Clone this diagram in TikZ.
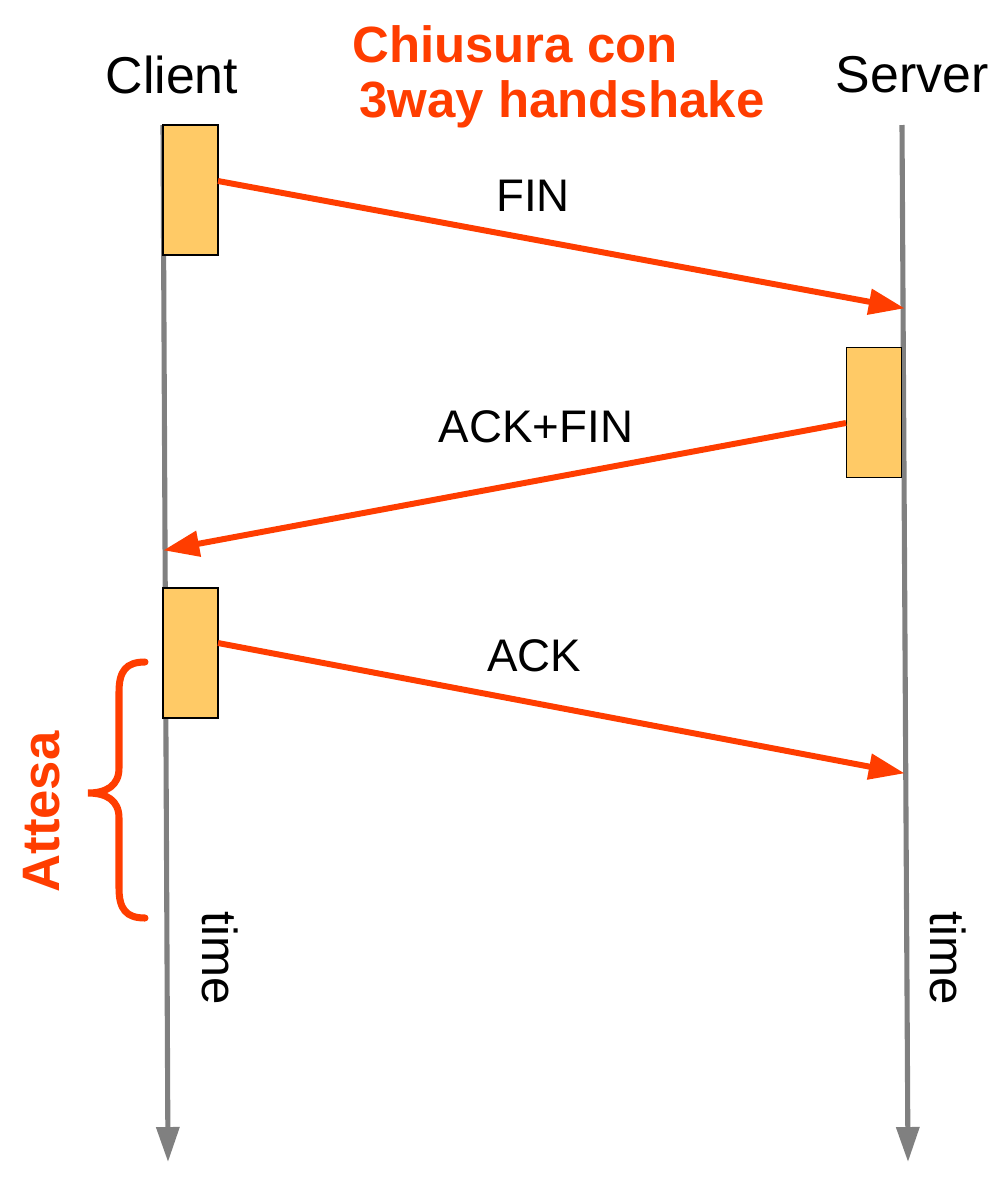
\documentclass[tikz,border=0pt]{standalone}
\usepackage{fontspec}
\setmainfont{Liberation Sans}
\usepackage{tikz}
\usetikzlibrary{arrows.meta}
\definecolor{msgred}{HTML}{FF3D00}
\definecolor{boxfill}{HTML}{FFCA66}
\definecolor{linegray}{HTML}{808080}

\begin{document}
\begin{tikzpicture}[
  x=0.02cm, y=-0.02cm,
  timeline/.style={draw=linegray, line width=2.9pt, -{Triangle[length=0.7cm, width=0.45cm]}},
  busy/.style={draw=black, line width=1pt, fill=boxfill, minimum width=1.1cm, minimum height=2.6cm, inner sep=0pt},
  msg/.style={draw=msgred, line width=3.4pt, -{Triangle[length=0.72cm, width=0.5cm]}, shorten >=-1pt},
  msglabel/.style={font=\fontsize{26}{30}\selectfont},
  host/.style={font=\fontsize{29.5}{34}\selectfont},
  title/.style={font=\fontsize{29}{34}\selectfont\bfseries, text=msgred, align=center}
]
\useasboundingbox (0,0) rectangle (1000,1184);

% Timelines
\coordinate (ctop) at (163,125);
\coordinate (cbot) at (168,1162);
\coordinate (stop) at (902,125);
\coordinate (sbot) at (908,1162);
\draw[timeline] (ctop) -- (cbot);
\draw[timeline] (stop) -- (sbot);

% Hosts and title
\node[host] (client) at (172,75) {Client};
\node[host] (server) at (912,75) {Server};
\node[title] (ttl1) at (515,44) {Chiusura con};
\node[title] (ttl2) at (562,104) {3way handshake};

% Busy boxes
\node[busy] (fin) at (190.5,190) {};
\node[busy] (ackfin) at (874,412.5) {};
\node[busy] (ack) at (190.5,653) {};

% Message ends
\coordinate (finS) at (218,181);
\coordinate (finE) at (903,308);
\coordinate (ackfinS) at (846,423);
\coordinate (ackfinE) at (165,550);
\coordinate (ackS) at (218,643);
\coordinate (ackE) at (903,773);

% Messages
\draw[msg] (finS) -- (finE);
\draw[msg] (ackfinS) -- (ackfinE);
\draw[msg] (ackS) -- (ackE);
\node[msglabel] (lfin) at (533,196) {FIN};
\node[msglabel] (lackfin) at (536,427) {ACK+FIN};
\node[msglabel] (lack) at (534,656) {ACK};

% Time labels
\node[host, font=\fontsize{28}{32}\selectfont, rotate=-90] (ctime) at (220,958) {time};
\node[host, font=\fontsize{28}{32}\selectfont, rotate=-90] (stime) at (948,958) {time};

% Waiting brace
\coordinate (wtop) at (145,662);
\coordinate (wmid) at (88,793);
\coordinate (wbot) at (145,918);
\draw[msgred, line width=4pt, line cap=round]
  (wtop) .. controls (126,662) and (119,671) .. (119,692) -- (119,768)
  .. controls (119,786) and (106,793) .. (wmid)
  .. controls (106,793) and (119,800) .. (119,818) -- (119,888)
  .. controls (119,909) and (126,918) .. (wbot);
\node[title, font=\fontsize{30}{34}\selectfont\bfseries, rotate=90] (wait) at (42,812) {Attesa};

\end{tikzpicture}
\end{document}
